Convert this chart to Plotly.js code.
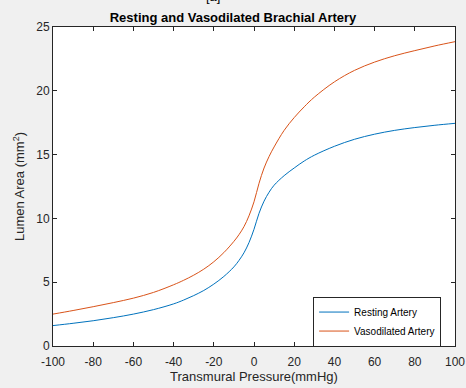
<!DOCTYPE html>
<html><head><meta charset="utf-8">
<script src="https://cdn.plot.ly/plotly-3.0.1.min.js"></script>
<style>html,body{margin:0;padding:0;background:#f0f0f0;}#chart{width:466px;height:388px;}</style>
</head><body><div id="chart"></div>
<script>
const pressure = [-100,-90,-80,-70,-60,-50,-40,-35,-30,-25,-20,-15,-10,-7.5,-5,-2.5,0,2.5,5,7.5,10,15,20,25,30,40,50,60,70,80,90,100];
const resting = [1.6,1.78,1.98,2.22,2.5,2.85,3.3,3.6,3.95,4.35,4.85,5.45,6.2,6.7,7.3,8.1,9.15,10.4,11.35,12.05,12.6,13.35,13.95,14.5,14.95,15.65,16.2,16.6,16.9,17.12,17.3,17.45];
const vasodilated = [2.5,2.78,3.08,3.4,3.75,4.2,4.8,5.15,5.55,6.02,6.6,7.32,8.2,8.72,9.35,10.2,11.3,12.75,13.95,14.85,15.6,16.9,17.9,18.75,19.5,20.7,21.6,22.25,22.75,23.15,23.52,23.85];
const xTicks = [-100,-80,-60,-40,-20,0,20,40,60,80,100];
const yTicks = [0,5,10,15,20,25];

const FONT = 'Liberation Sans, Arial, sans-serif';
const traces = [
  {x: pressure, y: resting, name: 'Resting Artery', mode: 'lines', line: {color: '#0072BD', width: 1, shape: 'spline', smoothing: 1}},
  {x: pressure, y: vasodilated, name: 'Vasodilated Artery', mode: 'lines', line: {color: '#D95319', width: 1, shape: 'spline', smoothing: 1}}
];
const axisCommon = {
  showgrid: false, zeroline: false, showline: true, mirror: 'ticks',
  linecolor: '#262626', linewidth: 1, ticks: 'inside', ticklen: 4, tickcolor: '#262626',
  tickfont: {family: FONT, size: 12, color: '#262626'}
};
const layout = {
  width: 466, height: 388,
  paper_bgcolor: '#f0f0f0', plot_bgcolor: '#ffffff',
  margin: {l: 53, r: 11, t: 27, b: 42},
  title: {text: '<b>Resting and Vasodilated Brachial Artery</b>', font: {family: FONT, size: 13, color: '#000'}, x: 0.5, xanchor: 'center', y: 0.955, yanchor: 'middle'},
  xaxis: Object.assign({}, axisCommon, {range: [-100, 100], tickvals: xTicks, ticktext: xTicks.map(String), ticklabelstandoff: 5,
    title: {text: 'Transmural Pressure(mmHg)', font: {family: FONT, size: 13, color: '#262626'}, standoff: 3}}),
  yaxis: Object.assign({}, axisCommon, {range: [0, 25], tickvals: yTicks, ticktext: yTicks.map(String),
    title: {text: 'Lumen Area (mm<sup>2</sup>)', font: {family: FONT, size: 13, color: '#262626'}, standoff: 8}}),
  showlegend: true,
  legend: {x: 0.647, y: 0.155, xanchor: 'left', yanchor: 'top', bgcolor: '#ffffff', bordercolor: '#262626', borderwidth: 1,
    font: {family: FONT, size: 10, color: '#000'}, tracegroupgap: 0, itemwidth: 30},
  annotations: [{text: '[a]', xref: 'paper', yref: 'paper', x: 0.398, y: 1.097, xanchor: 'center', yanchor: 'middle', showarrow: false,
    font: {family: FONT, size: 13, color: '#000'}}]
};
Plotly.newPlot('chart', traces, layout, {staticPlot: true, displayModeBar: false});
</script></body></html>
